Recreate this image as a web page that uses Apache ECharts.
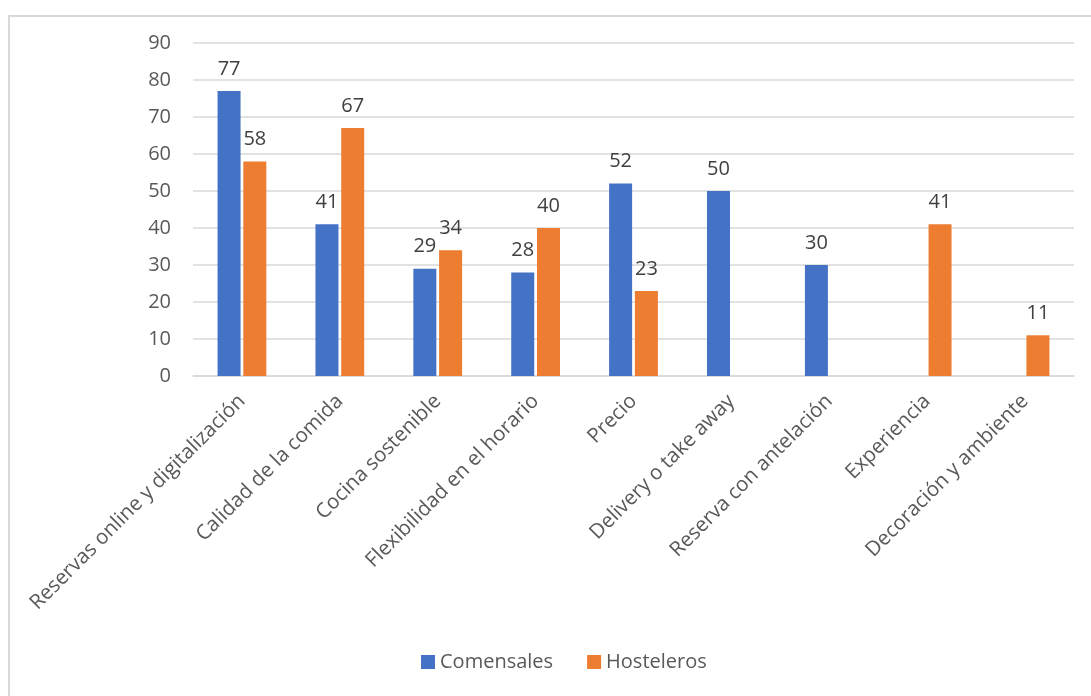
<!DOCTYPE html>
<html>
<head>
<meta charset="utf-8">
<script src="https://cdn.jsdelivr.net/npm/echarts@6/dist/echarts.min.js"></script>
<style>
html,body{margin:0;padding:0;background:#fff;}
#frame{position:absolute;left:8px;top:15px;width:1100px;height:700px;border-left:2px solid #d9d9d9;border-top:2px solid #d9d9d9;box-sizing:border-box;}
#chart{position:absolute;left:0;top:0;width:1091px;height:696px;}
</style>
</head>
<body>
<div id="frame"></div>
<div id="chart"></div>
<script>
const categories = ["Reservas online y digitalización","Calidad de la comida","Cocina sostenible","Flexibilidad en el horario","Precio","Delivery o take away","Reserva con antelación","Experiencia","Decoración y ambiente"];
const comensales = [77, 41, 29, 28, 52, 50, 30, null, null];
const hosteleros = [58, 67, 34, 40, 23, null, null, 41, 11];
const yTicks = {min: 0, max: 90, interval: 10};

const font = "'Open Sans', sans-serif";
const chart = echarts.init(document.getElementById('chart'), null, {renderer: 'canvas'});
const labelStyle = {show: true, position: 'top', color: '#404040', fontSize: 20, fontFamily: font, distance: 12};
chart.setOption({
  animation: false,
  backgroundColor: 'transparent',
  grid: {left: 193, right: 17, top: 43, bottom: 320},
  legend: {
    bottom: 19, left: 416, itemWidth: 14, itemHeight: 14, itemGap: 34,
    icon: 'rect',
    textStyle: {color: '#595959', fontSize: 20, fontFamily: font},
    data: ['Comensales', 'Hosteleros']
  },
  xAxis: {
    type: 'category', data: categories,
    axisLine: {lineStyle: {color: '#d9d9d9', width: 1.5}},
    axisTick: {show: false},
    axisLabel: {rotate: 45, interval: 0, color: '#595959', fontSize: 20.5, fontFamily: font, margin: 22}
  },
  yAxis: {
    type: 'value', min: yTicks.min, max: yTicks.max, interval: yTicks.interval,
    axisLine: {show: false}, axisTick: {show: false},
    splitLine: {lineStyle: {color: '#d9d9d9', width: 1.5}},
    axisLabel: {color: '#595959', fontSize: 20, fontFamily: font, margin: 22}
  },
  series: [
    {name: 'Comensales', type: 'bar', data: comensales, barWidth: 23, barGap: '12%',
     itemStyle: {color: '#4472C4'}, label: labelStyle},
    {name: 'Hosteleros', type: 'bar', data: hosteleros, barWidth: 23,
     itemStyle: {color: '#ED7D31'}, label: labelStyle}
  ]
});
</script>
</body>
</html>
